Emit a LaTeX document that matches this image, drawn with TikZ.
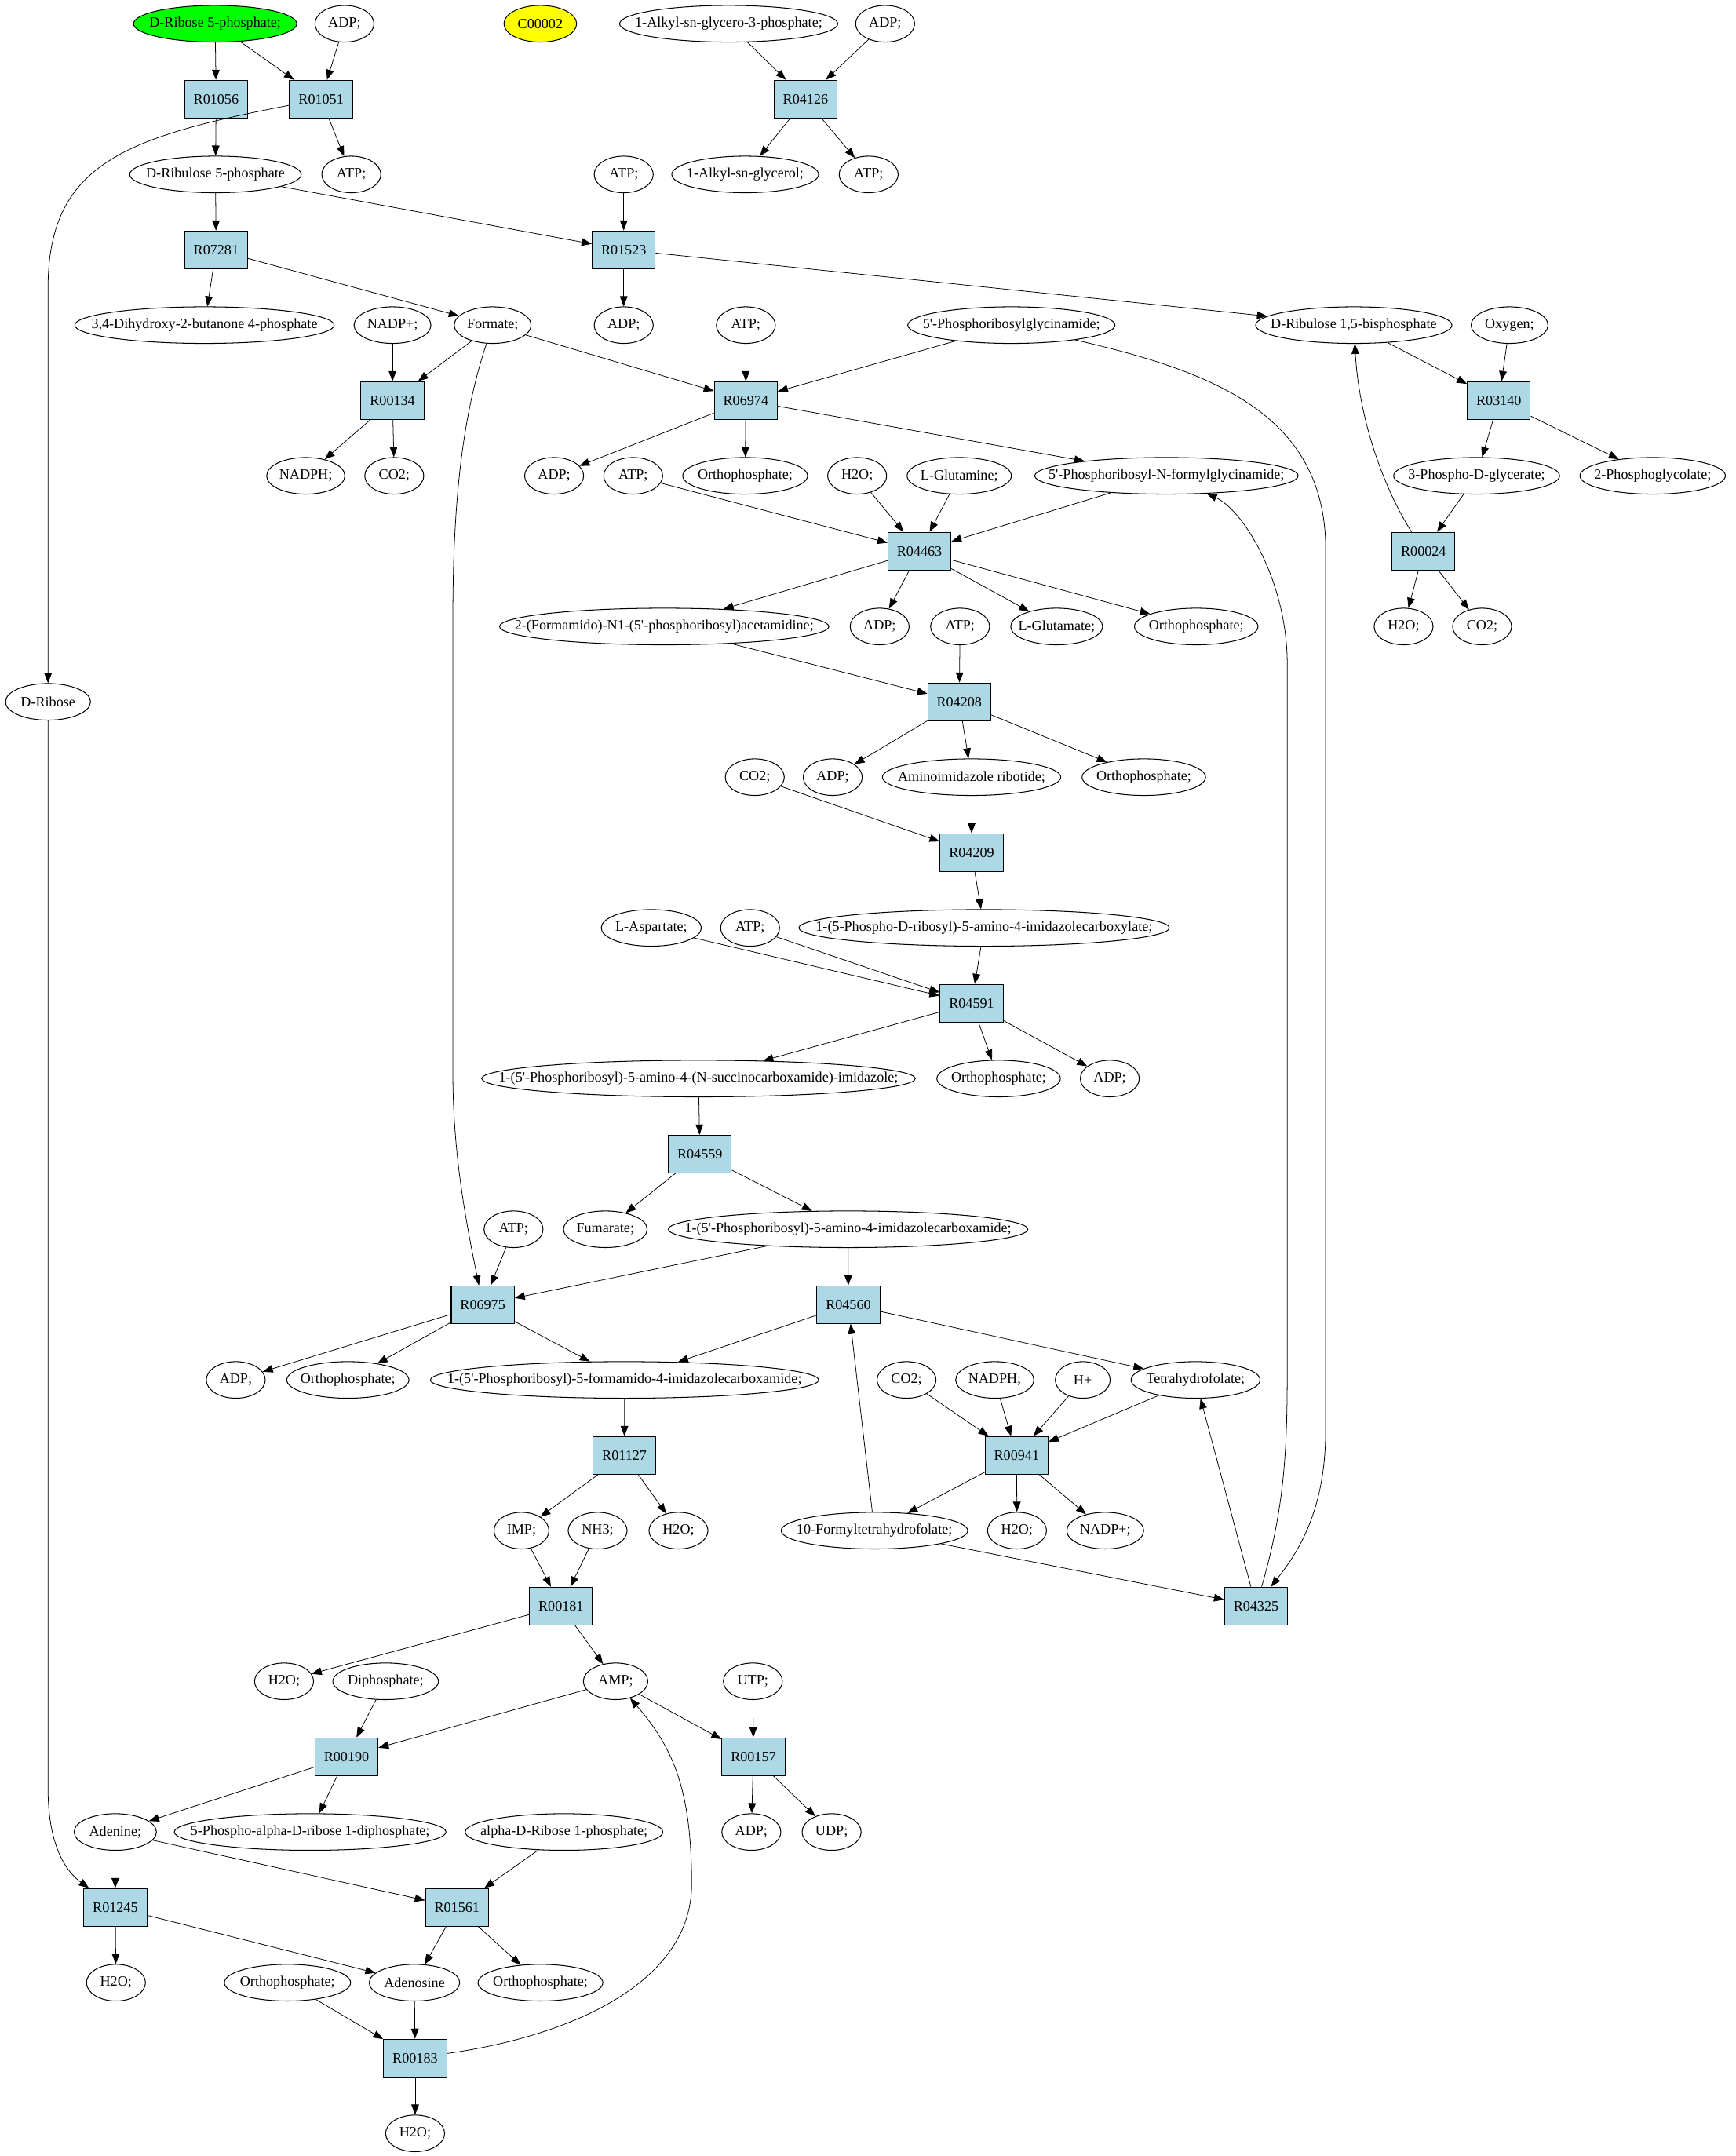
\documentclass[tikz,border=0pt]{standalone}
\usepackage{fontspec}
\setmainfont{Liberation Serif}
\usepackage{tikz}
\usetikzlibrary{shapes.geometric,arrows.meta}
\definecolor{rxnblue}{HTML}{ADD8E6}
\definecolor{startgreen}{HTML}{00FF00}
\definecolor{cpdyellow}{HTML}{FFFF00}
\newcommand{\pq}{\textquotesingle}

\begin{document}
\begin{tikzpicture}[x=1.35pt, y=-1.35pt, >={Triangle[length=10pt,width=7.5pt]}, line width=0.6pt,
    met/.style={ellipse, draw, line width=0.8pt, inner xsep=-400pt, inner ysep=0pt,
      minimum height=36pt, minimum width=#1*1.35pt, font=\fontsize{14pt}{16pt}\selectfont},
    met/.default=43,
    rxn/.style={rectangle, draw, fill=rxnblue, line width=0.8pt, inner sep=0pt,
      minimum width=62pt, minimum height=37pt, font=\fontsize{14pt}{16pt}\selectfont}]
    \path[use as bounding box, fill=white] (0,0) rectangle (1265,1571);

    \node[met=119, fill=startgreen] (dr5p) at (156.8,17.3) {D-Ribose 5-phosphate;};
    \node[met] (adpA) at (251,17.3) {ADP;};
    \node[met=53, fill=cpdyellow] (c00002) at (393.7,17.3) {C00002};
    \node[met=159] (alkg3p) at (531,17.3) {1-Alkyl-sn-glycero-3-phosphate;};
    \node[met] (adpB) at (645,17.3) {ADP;};

    \node[rxn] (r01056) at (157.5,72.2) {R01056};
    \node[rxn] (r01051) at (234,72.2) {R01051};
    \node[rxn] (r04126) at (587,72.2) {R04126};

    \node[met=125] (ru5p) at (157,127.1) {D-Ribulose 5-phosphate};
    \node[met] (atpA) at (256,127.1) {ATP;};
    \node[met] (atpB) at (454.5,127.1) {ATP;};
    \node[met=107] (alkgl) at (543,127.1) {1-Alkyl-sn-glycerol;};
    \node[met] (atpC) at (633,127.1) {ATP;};

    \node[rxn] (r07281) at (157.5,182) {R07281};
    \node[rxn] (r01523) at (454.5,182) {R01523};

    \node[met=189] (dhbp) at (149,236.9) {3,4-Dihydroxy-2-butanone 4-phosphate};
    \node[met=56] (nadpA) at (286,236.9) {NADP+;};
    \node[met=56] (formate) at (359,236.9) {Formate;};
    \node[met] (adpC) at (454.5,236.9) {ADP;};
    \node[met] (atpD) at (543.5,236.9) {ATP;};
    \node[met=151] (gar) at (737,236.9) {5\pq-Phosphoribosylglycinamide;};
    \node[met=143] (rubp) at (986.5,236.9) {D-Ribulose 1,5-bisphosphate};
    \node[met=56] (oxygen) at (1100,236.9) {Oxygen;};

    \node[rxn] (r00134) at (286,291.8) {R00134};
    \node[rxn] (r06974) at (543.5,291.8) {R06974};
    \node[rxn] (r03140) at (1092.2,291.8) {R03140};

    \node[met=57] (nadphA) at (222.8,346.7) {NADPH;};
    \node[met] (co2A) at (287.3,346.7) {CO2;};
    \node[met] (adpD) at (403.8,346.7) {ADP;};
    \node[met] (atpE) at (461.4,346.7) {ATP;};
    \node[met=91] (piA) at (543,346.7) {Orthophosphate;};
    \node[met] (h2oA) at (624.6,346.7) {H2O;};
    \node[met=76] (gln) at (699,346.7) {L-Glutamine;};
    \node[met=192] (fgar) at (850,346.7) {5\pq-Phosphoribosyl-N-formylglycinamide;};
    \node[met=121] (pga) at (1076,346.7) {3-Phospho-D-glycerate;};
    \node[met=106] (pgly) at (1204.3,346.7) {2-Phosphoglycolate;};

    \node[rxn] (r04463) at (670,401.6) {R04463};
    \node[rxn] (r00024) at (1037.3,401.6) {R00024};

    \node[met=240] (fgam) at (484,456.5) {2-(Formamido)-N1-(5\pq-phosphoribosyl)acetamidine;};
    \node[met] (adpE) at (641,456.5) {ADP;};
    \node[met] (atpF) at (699.6,456.5) {ATP;};
    \node[met=67] (glu) at (770,456.5) {L-Glutamate;};
    \node[met=90] (piB) at (871.7,456.5) {Orthophosphate;};
    \node[met] (h2oB) at (1022.8,456.5) {H2O;};
    \node[met] (co2B) at (1080,456.5) {CO2;};

    \node[met=62] (ribose) at (35,511.4) {D-Ribose};
    \node[rxn] (r04208) at (699,511.4) {R04208};

    \node[met] (co2C) at (550,566.3) {CO2;};
    \node[met] (adpF) at (606.8,566.3) {ADP;};
    \node[met=130] (air) at (708,566.3) {Aminoimidazole ribotide;};
    \node[met=90] (piC) at (833.5,566.3) {Orthophosphate;};

    \node[rxn] (r04209) at (708,621.2) {R04209};

    \node[met=73] (asp) at (474.6,676.1) {L-Aspartate;};
    \node[met] (atpG) at (546.6,676.1) {ATP;};
    \node[met=270] (cair) at (717.1,676.1) {1-(5-Phospho-D-ribosyl)-5-amino-4-imidazolecarboxylate;};

    \node[rxn] (r04591) at (708,731) {R04591};

    \node[met=316] (saicar) at (509,785.9) {1-(5\pq-Phosphoribosyl)-5-amino-4-(N-succinocarboxamide)-imidazole;};
    \node[met=90] (piD) at (727.7,785.9) {Orthophosphate;};
    \node[met] (adpG) at (808.7,785.9) {ADP;};

    \node[rxn] (r04559) at (510,840.8) {R04559};

    \node[met] (atpH) at (374.2,895.7) {ATP;};
    \node[met=61] (fum) at (441.1,895.7) {Fumarate;};
    \node[met=262] (aicar) at (618,895.7) {1-(5\pq-Phosphoribosyl)-5-amino-4-imidazolecarboxamide;};

    \node[rxn] (r06975) at (351.8,950.6) {R06975};
    \node[rxn] (r04560) at (618.2,950.6) {R04560};

    \node[met] (adpH) at (171.8,1005.5) {ADP;};
    \node[met=89] (piE) at (253.5,1005.5) {Orthophosphate;};
    \node[met=283] (faicar) at (455.1,1005.5) {1-(5\pq-Phosphoribosyl)-5-formamido-4-imidazolecarboxamide;};
    \node[met] (co2D) at (660.6,1005.5) {CO2;};
    \node[met=57] (nadphB) at (724.9,1005.5) {NADPH;};
    \node[met=40] (hplus) at (789,1005.5) {H+};
    \node[met=94] (thf) at (871.2,1005.5) {Tetrahydrofolate;};

    \node[rxn] (r01127) at (455,1060.4) {R01127};
    \node[rxn] (r00941) at (740.8,1060.4) {R00941};

    \node[met=40] (imp) at (380,1115.3) {IMP;};
    \node[met] (nh3) at (435.5,1115.3) {NH3;};
    \node[met] (h2oC) at (494.4,1115.3) {H2O;};
    \node[met=136] (fthf) at (637.2,1115.3) {10-Formyltetrahydrofolate;};
    \node[met] (h2oD) at (741.1,1115.3) {H2O;};
    \node[met=56] (nadpB) at (805.4,1115.3) {NADP+;};

    \node[rxn] (r00181) at (408.8,1170.2) {R00181};
    \node[rxn] (r04325) at (915.3,1170.2) {R04325};

    \node[met] (h2oE) at (207,1225.1) {H2O;};
    \node[met=77] (ppi) at (281,1225.1) {Diphosphate;};
    \node[met=47] (amp) at (448.6,1225.1) {AMP;};
    \node[met] (utp) at (548.6,1225.1) {UTP;};

    \node[rxn] (r00190) at (252.5,1280) {R00190};
    \node[rxn] (r00157) at (549,1280) {R00157};

    \node[met=60] (ade) at (84,1334.9) {Adenine;};
    \node[met=198] (prpp) at (226,1334.9) {5-Phospho-alpha-D-ribose 1-diphosphate;};
    \node[met=144] (r1p) at (411,1334.9) {alpha-D-Ribose 1-phosphate;};
    \node[met] (adpI) at (547.5,1334.9) {ADP;};
    \node[met] (udp) at (606,1334.9) {UDP;};

    \node[rxn] (r01245) at (84,1389.8) {R01245};
    \node[rxn] (r01561) at (333,1389.8) {R01561};

    \node[met] (h2oF) at (84.5,1444.7) {H2O;};
    \node[met=92] (piF) at (209.5,1444.7) {Orthophosphate;};
    \node[met=66] (ado) at (302,1444.7) {Adenosine};
    \node[met=91] (piG) at (393.8,1444.7) {Orthophosphate;};

    \node[rxn] (r00183) at (302.5,1499.6) {R00183};

    \node[met] (h2oG) at (302.5,1554.5) {H2O;};

    \draw[->] (dr5p) -- (r01056);
    \draw[->] (dr5p) -- (r01051);
    \draw[->] (adpA) -- (r01051);
    \draw[->] (alkg3p) -- (r04126);
    \draw[->] (adpB) -- (r04126);
    \draw[->] (r01056) -- (ru5p);
    \draw[->] (r01051) -- (atpA);
    \draw[->] (r01051) .. controls (90,100) and (35,120) .. (35,210) -- (ribose);
    \draw[->] (r04126) -- (alkgl);
    \draw[->] (r04126) -- (atpC);
    \draw[->] (ru5p) -- (r07281);
    \draw[->] (ru5p) -- (r01523);
    \draw[->] (atpB) -- (r01523);
    \draw[->] (r07281) -- (dhbp);
    \draw[->] (r07281) -- (formate);
    \draw[->] (r01523) -- (adpC);
    \draw[->] (r01523) -- (rubp);
    \draw[->] (nadpA) -- (r00134);
    \draw[->] (formate) -- (r00134);
    \draw[->] (formate) -- (r06974);
    \draw[->] (formate) .. controls (338,300) and (330,360) .. (330,450) -- (330,782) .. controls (330,842) and (340,892) .. (r06975);
    \draw[->] (atpD) -- (r06974);
    \draw[->] (gar) -- (r06974);
    \draw[->] (gar) .. controls (880,270) and (966,300) .. (966,400) -- (966,1042) .. controls (966,1102) and (945,1132) .. (r04325);
    \draw[->] (rubp) -- (r03140);
    \draw[->] (oxygen) -- (r03140);
    \draw[->] (r00134) -- (nadphA);
    \draw[->] (r00134) -- (co2A);
    \draw[->] (r06974) -- (adpD);
    \draw[->] (r06974) -- (piA);
    \draw[->] (r06974) -- (fgar);
    \draw[->] (r03140) -- (pga);
    \draw[->] (r03140) -- (pgly);
    \draw[->] (pga) -- (r00024);
    \draw[->] (r00024) .. controls (1005,350) and (990,300) .. (rubp);
    \draw[->] (r00024) -- (h2oB);
    \draw[->] (r00024) -- (co2B);
    \draw[->] (atpE) -- (r04463);
    \draw[->] (h2oA) -- (r04463);
    \draw[->] (gln) -- (r04463);
    \draw[->] (fgar) -- (r04463);
    \draw[->] (r04463) -- (fgam);
    \draw[->] (r04463) -- (adpE);
    \draw[->] (r04463) -- (glu);
    \draw[->] (r04463) -- (piB);
    \draw[->] (fgam) -- (r04208);
    \draw[->] (atpF) -- (r04208);
    \draw[->] (r04208) -- (adpF);
    \draw[->] (r04208) -- (air);
    \draw[->] (r04208) -- (piC);
    \draw[->] (air) -- (r04209);
    \draw[->] (co2C) -- (r04209);
    \draw[->] (r04209) -- (cair);
    \draw[->] (cair) -- (r04591);
    \draw[->] (asp) -- (r04591);
    \draw[->] (atpG) -- (r04591);
    \draw[->] (r04591) -- (saicar);
    \draw[->] (r04591) -- (piD);
    \draw[->] (r04591) -- (adpG);
    \draw[->] (saicar) -- (r04559);
    \draw[->] (r04559) -- (fum);
    \draw[->] (r04559) -- (aicar);
    \draw[->] (aicar) -- (r06975);
    \draw[->] (aicar) -- (r04560);
    \draw[->] (atpH) -- (r06975);
    \draw[->] (r06975) -- (adpH);
    \draw[->] (r06975) -- (piE);
    \draw[->] (r06975) -- (faicar);
    \draw[->] (r04560) -- (faicar);
    \draw[->] (r04560) -- (thf);
    \draw[->] (fthf) -- (r04560);
    \draw[->] (co2D) -- (r00941);
    \draw[->] (nadphB) -- (r00941);
    \draw[->] (hplus) -- (r00941);
    \draw[->] (thf) -- (r00941);
    \draw[->] (r00941) -- (fthf);
    \draw[->] (r00941) -- (h2oD);
    \draw[->] (r00941) -- (nadpB);
    \draw[->] (fthf) -- (r04325);
    \draw[->] (r04325) -- (thf);
    \draw[->] (r04325) .. controls (935,1102) and (938,1062) .. (938,1002) -- (938,481) .. controls (937,421) and (905,371) .. (fgar);
    \draw[->] (faicar) -- (r01127);
    \draw[->] (r01127) -- (imp);
    \draw[->] (r01127) -- (h2oC);
    \draw[->] (imp) -- (r00181);
    \draw[->] (nh3) -- (r00181);
    \draw[->] (r00181) -- (h2oE);
    \draw[->] (r00181) -- (amp);
    \draw[->] (amp) -- (r00190);
    \draw[->] (amp) -- (r00157);
    \draw[->] (ppi) -- (r00190);
    \draw[->] (utp) -- (r00157);
    \draw[->] (r00190) -- (ade);
    \draw[->] (r00190) -- (prpp);
    \draw[->] (r00157) -- (adpI);
    \draw[->] (r00157) -- (udp);
    \draw[->] (ribose) -- (35,1303) .. controls (35,1348) and (50,1365) .. (r01245);
    \draw[->] (ade) -- (r01245);
    \draw[->] (ade) -- (r01561);
    \draw[->] (r1p) -- (r01561);
    \draw[->] (r01245) -- (h2oF);
    \draw[->] (r01245) -- (ado);
    \draw[->] (r01561) -- (ado);
    \draw[->] (r01561) -- (piG);
    \draw[->] (piF) -- (r00183);
    \draw[->] (ado) -- (r00183);
    \draw[->] (r00183) -- (h2oG);
    \draw[->] (r00183) .. controls (420,1483) and (504,1443) .. (504,1373) .. controls (504,1303) and (490,1273) .. (amp);
\end{tikzpicture}
\end{document}
